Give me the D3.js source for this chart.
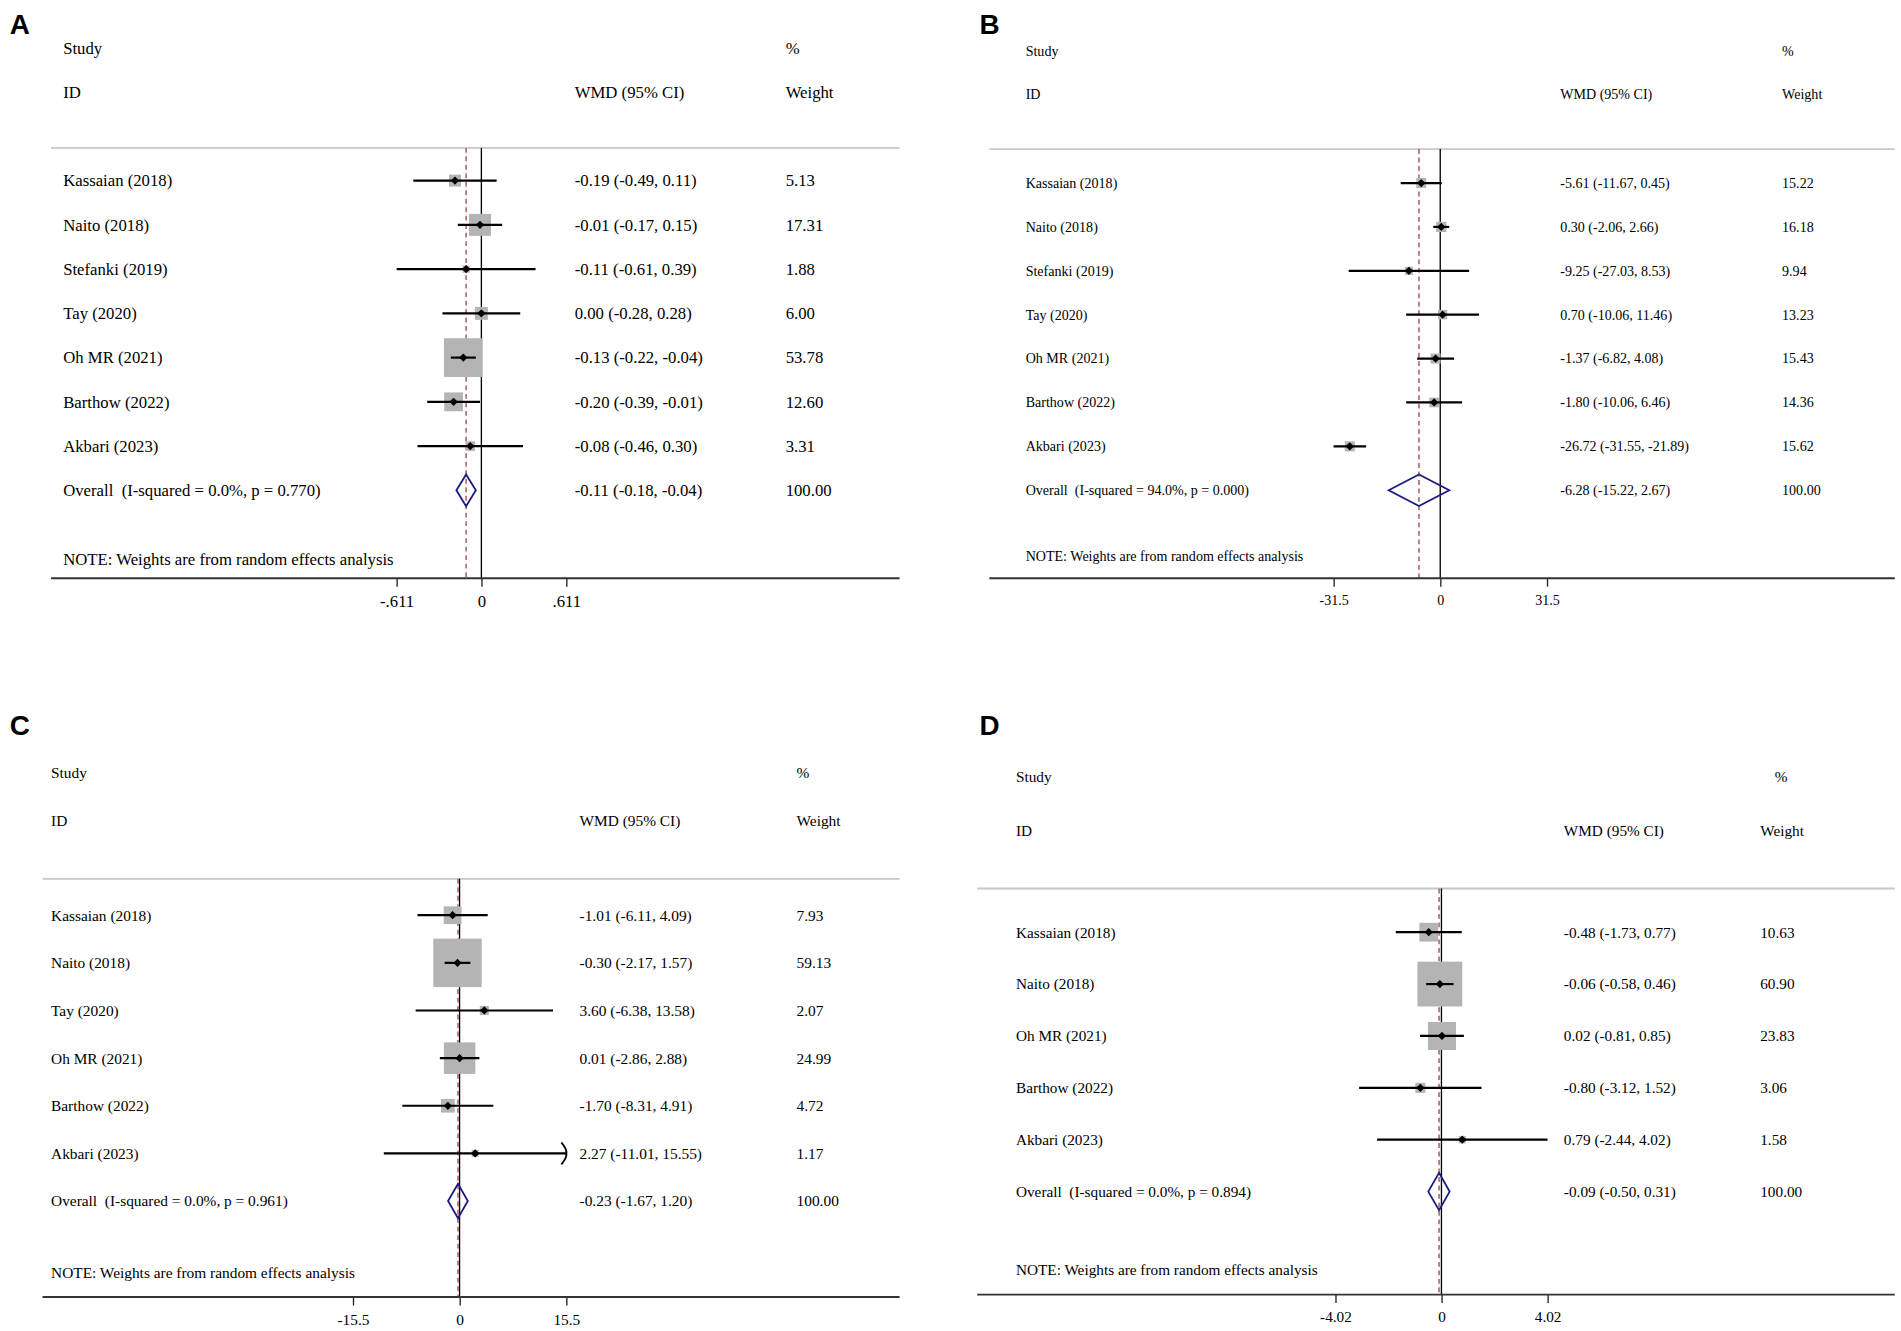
<!DOCTYPE html>
<html>
<head>
<meta charset="utf-8">
<script src="https://cdn.jsdelivr.net/npm/d3@7"></script>
<style>
  body { margin: 0; background: #fff; }
  text { font-family: "Liberation Serif", "Times New Roman", serif; fill: #000; }
  .letter { font-family: "Liberation Sans", Arial, sans-serif; font-weight: bold; }
</style>
</head>
<body>
<svg id="chart"></svg>
<script>
// Panel A - data
var studiesA = ['Kassaian (2018)', 'Naito (2018)', 'Stefanki (2019)', 'Tay (2020)', 'Oh MR (2021)', 'Barthow (2022)', 'Akbari (2023)'];
var estA = [-0.19, -0.01, -0.11, 0.00, -0.13, -0.20, -0.08];
var loA = [-0.49, -0.17, -0.61, -0.28, -0.22, -0.39, -0.46];
var hiA = [0.11, 0.15, 0.39, 0.28, -0.04, -0.01, 0.30];
var weightA = [5.13, 17.31, 1.88, 6.00, 53.78, 12.60, 3.31];
var overallA = [-0.11, -0.18, -0.04];
var hetA = 'Overall  (I-squared = 0.0%, p = 0.770)';
var ticksA = [-0.611, 0, 0.611];
var tickLabelsA = ['-.611', '0', '.611'];

// Panel B - data
var studiesB = ['Kassaian (2018)', 'Naito (2018)', 'Stefanki (2019)', 'Tay (2020)', 'Oh MR (2021)', 'Barthow (2022)', 'Akbari (2023)'];
var estB = [-5.61, 0.30, -9.25, 0.70, -1.37, -1.80, -26.72];
var loB = [-11.67, -2.06, -27.03, -10.06, -6.82, -10.06, -31.55];
var hiB = [0.45, 2.66, 8.53, 11.46, 4.08, 6.46, -21.89];
var weightB = [15.22, 16.18, 9.94, 13.23, 15.43, 14.36, 15.62];
var overallB = [-6.28, -15.22, 2.67];
var hetB = 'Overall  (I-squared = 94.0%, p = 0.000)';
var ticksB = [-31.5, 0, 31.5];
var tickLabelsB = ['-31.5', '0', '31.5'];

// Panel C - data
var studiesC = ['Kassaian (2018)', 'Naito (2018)', 'Tay (2020)', 'Oh MR (2021)', 'Barthow (2022)', 'Akbari (2023)'];
var estC = [-1.01, -0.30, 3.60, 0.01, -1.70, 2.27];
var loC = [-6.11, -2.17, -6.38, -2.86, -8.31, -11.01];
var hiC = [4.09, 1.57, 13.58, 2.88, 4.91, 15.55];
var weightC = [7.93, 59.13, 2.07, 24.99, 4.72, 1.17];
var overallC = [-0.23, -1.67, 1.20];
var hetC = 'Overall  (I-squared = 0.0%, p = 0.961)';
var ticksC = [-15.5, 0, 15.5];
var tickLabelsC = ['-15.5', '0', '15.5'];

// Panel D - data
var studiesD = ['Kassaian (2018)', 'Naito (2018)', 'Oh MR (2021)', 'Barthow (2022)', 'Akbari (2023)'];
var estD = [-0.48, -0.06, 0.02, -0.80, 0.79];
var loD = [-1.73, -0.58, -0.81, -3.12, -2.44];
var hiD = [0.77, 0.46, 0.85, 1.52, 4.02];
var weightD = [10.63, 60.90, 23.83, 3.06, 1.58];
var overallD = [-0.09, -0.50, 0.31];
var hetD = 'Overall  (I-squared = 0.0%, p = 0.894)';
var ticksD = [-4.02, 0, 4.02];
var tickLabelsD = ['-4.02', '0', '4.02'];

// Drawing space: the picture is laid out on 1568 x 1098 and scaled to the window
var svgWidth = 1901;
var svgHeight = 1331;

var svg = d3.select('#chart')
    .attr('width', svgWidth)
    .attr('height', svgHeight)
    .attr('viewBox', '0 0 1568 1098');

svg.append('rect')
    .attr('width', 1568)
    .attr('height', 1098)
    .attr('fill', '#fff');

// Layout of each panel
var panels = [
    {letter: 'A', lx: 8, ly: 28, studies: studiesA, est: estA, lo: loA, hi: hiA, weight: weightA,
     overall: overallA, het: hetA, ticks: ticksA, tickLabels: tickLabelsA,
     left: 42, right: 742, xStudy: 52, xEst: 474, xWt: 648, xPct: 648, yStudy: 40, yID: 76, yTop: 122,
     row0: 149, step: 36.5, yNote: 461, yAxis: 477, x0: 397, half: 70, fs: 13.8, boxK: 4.36},
    {letter: 'B', lx: 808, ly: 28, studies: studiesB, est: estB, lo: loB, hi: hiB, weight: weightB,
     overall: overallB, het: hetB, ticks: ticksB, tickLabels: tickLabelsB,
     left: 816, right: 1563, xStudy: 846, xEst: 1287, xWt: 1470, xPct: 1470, yStudy: 42, yID: 78, yTop: 123,
     row0: 151, step: 36.2, yNote: 459, yAxis: 477, x0: 1188, half: 88, fs: 11.6, boxK: 2.1},
    {letter: 'C', lx: 8, ly: 606, studies: studiesC, est: estC, lo: loC, hi: hiC, weight: weightC,
     overall: overallC, het: hetC, ticks: ticksC, tickLabels: tickLabelsC,
     left: 35, right: 742, xStudy: 42, xEst: 478, xWt: 657, xPct: 657, yStudy: 637, yID: 677, yTop: 725,
     row0: 755, step: 39.3, yNote: 1050, yAxis: 1070, x0: 379, half: 88, fs: 12.7, boxK: 5.2},
    {letter: 'D', lx: 808, ly: 606, studies: studiesD, est: estD, lo: loD, hi: hiD, weight: weightD,
     overall: overallD, het: hetD, ticks: ticksD, tickLabels: tickLabelsD,
     left: 806, right: 1563, xStudy: 838, xEst: 1290, xWt: 1452, xPct: 1464, yStudy: 641, yID: 685, yTop: 733,
     row0: 769, step: 42.8, yNote: 1047, yAxis: 1068, x0: 1189, half: 87.5, fs: 12.6, boxK: 4.74}
];

function drawPanel(p) {
    var g = svg.append('g');
    var n = p.studies.length;
    var lim = p.ticks[p.ticks.length - 1];

    var xScale = d3.scaleLinear()
        .domain([-lim, lim])
        .range([p.x0 - p.half, p.x0 + p.half]);

    var yScale = d3.scaleLinear()
        .domain([0, 1])
        .range([p.row0, p.row0 + p.step]);

    var rows = p.studies.map((s, i) => ({
        study: s, est: p.est[i], lo: p.lo[i], hi: p.hi[i], w: p.weight[i], i: i
    }));
    var yOverall = yScale(n);

    // Panel letter
    g.append('text')
        .attr('class', 'letter')
        .attr('x', p.lx)
        .attr('y', p.ly)
        .style('font-size', '23px')
        .text(p.letter);

    // Header texts
    var header = [
        {t: 'Study', x: p.xStudy, y: p.yStudy},
        {t: '%', x: p.xPct, y: p.yStudy},
        {t: 'ID', x: p.xStudy, y: p.yID},
        {t: 'WMD (95% CI)', x: p.xEst, y: p.yID},
        {t: 'Weight', x: p.xWt, y: p.yID}
    ];
    g.selectAll('.hdr')
        .data(header)
        .enter()
        .append('text')
        .attr('x', (d) => d.x)
        .attr('y', (d) => d.y)
        .attr('dy', '0.35em')
        .style('font-size', p.fs + 'px')
        .text((d) => d.t);

    // Top rule
    g.append('line')
        .attr('x1', p.left).attr('x2', p.right)
        .attr('y1', p.yTop).attr('y2', p.yTop)
        .attr('stroke', '#c8c8c8')
        .attr('stroke-width', 1.6);

    // Null line and overall dashed line
    g.append('line')
        .attr('x1', xScale(0)).attr('x2', xScale(0))
        .attr('y1', p.yTop).attr('y2', p.yAxis)
        .attr('stroke', '#000')
        .attr('stroke-width', 1.1);

    g.append('line')
        .attr('x1', xScale(p.overall[0])).attr('x2', xScale(p.overall[0]))
        .attr('y1', p.yTop).attr('y2', p.yAxis)
        .attr('stroke', '#a8565a')
        .attr('stroke-width', 1.2)
        .attr('stroke-dasharray', '4,3');

    // Weight boxes
    g.selectAll('.box')
        .data(rows)
        .enter()
        .append('rect')
        .attr('x', (d) => xScale(d.est) - p.boxK * Math.sqrt(d.w) / 2)
        .attr('y', (d) => yScale(d.i) - p.boxK * Math.sqrt(d.w) / 2)
        .attr('width', (d) => p.boxK * Math.sqrt(d.w))
        .attr('height', (d) => p.boxK * Math.sqrt(d.w))
        .attr('fill', '#b4b4b4');

    // Confidence intervals (clipped at the axis range)
    g.selectAll('.ci')
        .data(rows)
        .enter()
        .append('line')
        .attr('x1', (d) => xScale(Math.max(d.lo, -lim)))
        .attr('x2', (d) => xScale(Math.min(d.hi, lim)))
        .attr('y1', (d) => yScale(d.i))
        .attr('y2', (d) => yScale(d.i))
        .attr('stroke', '#000')
        .attr('stroke-width', 1.8);

    // Arrow for intervals running off the scale
    var clipped = rows.filter((d) => d.hi > lim);
    g.selectAll('.arrow')
        .data(clipped)
        .enter()
        .append('path')
        .attr('d', (d) => {
            var x = xScale(lim), y = yScale(d.i);
            return `M${x - 4},${y - 9} Q${x + 1},${y - 3} ${x},${y} Q${x + 1},${y + 3} ${x - 4},${y + 9}`;
        })
        .attr('fill', 'none')
        .attr('stroke', '#000')
        .attr('stroke-width', 1.6);

    // Point estimates
    g.selectAll('.pt')
        .data(rows)
        .enter()
        .append('path')
        .attr('d', (d) => {
            var x = xScale(d.est), y = yScale(d.i), r = 3.4;
            return `M${x},${y - r} L${x + r},${y} L${x},${y + r} L${x - r},${y} Z`;
        })
        .attr('fill', '#000');

    // Overall diamond
    var dh = p.step * 0.36;
    g.append('path')
        .attr('d', `M${xScale(p.overall[1])},${yOverall} L${xScale(p.overall[0])},${yOverall - dh} ` +
            `L${xScale(p.overall[2])},${yOverall} L${xScale(p.overall[0])},${yOverall + dh} Z`)
        .attr('fill', 'none')
        .attr('stroke', '#1c1c80')
        .attr('stroke-width', 1.5);

    // Row texts
    g.selectAll('.study')
        .data(rows)
        .enter()
        .append('text')
        .attr('x', p.xStudy)
        .attr('y', (d) => yScale(d.i))
        .attr('dy', '0.35em')
        .style('font-size', p.fs + 'px')
        .text((d) => d.study);

    g.selectAll('.estTxt')
        .data(rows)
        .enter()
        .append('text')
        .attr('x', p.xEst)
        .attr('y', (d) => yScale(d.i))
        .attr('dy', '0.35em')
        .style('font-size', p.fs + 'px')
        .text((d) => `${d.est.toFixed(2)} (${d.lo.toFixed(2)}, ${d.hi.toFixed(2)})`);

    g.selectAll('.wtTxt')
        .data(rows)
        .enter()
        .append('text')
        .attr('x', p.xWt)
        .attr('y', (d) => yScale(d.i))
        .attr('dy', '0.35em')
        .style('font-size', p.fs + 'px')
        .text((d) => d.w.toFixed(2));

    // Overall row
    var ov = p.overall;
    var overallTexts = [
        {t: p.het, x: p.xStudy},
        {t: `${ov[0].toFixed(2)} (${ov[1].toFixed(2)}, ${ov[2].toFixed(2)})`, x: p.xEst},
        {t: '100.00', x: p.xWt}
    ];
    g.selectAll('.ovTxt')
        .data(overallTexts)
        .enter()
        .append('text')
        .attr('x', (d) => d.x)
        .attr('y', yOverall)
        .attr('dy', '0.35em')
        .style('font-size', p.fs + 'px')
        .style('white-space', 'pre')
        .text((d) => d.t);

    g.append('text')
        .attr('x', p.xStudy)
        .attr('y', p.yNote)
        .attr('dy', '0.35em')
        .style('font-size', p.fs + 'px')
        .text('NOTE: Weights are from random effects analysis');

    // Bottom axis
    var axis = d3.axisBottom(xScale)
        .tickValues(p.ticks)
        .tickSize(7)
        .tickFormat((d, i) => p.tickLabels[i]);

    var ax = g.append('g')
        .attr('transform', `translate(0, ${p.yAxis})`)
        .call(axis);
    ax.select('.domain').remove();
    ax.selectAll('.tick line').attr('stroke', '#222').attr('stroke-width', 1.1);
    ax.selectAll('.tick text')
        .attr('y', 14)
        .style('font-family', '"Liberation Serif", "Times New Roman", serif')
        .style('font-size', p.fs + 'px')
        .attr('fill', '#000');

    g.append('line')
        .attr('x1', p.left).attr('x2', p.right)
        .attr('y1', p.yAxis).attr('y2', p.yAxis)
        .attr('stroke', '#333')
        .attr('stroke-width', 1.6);
}

panels.forEach(drawPanel);
</script>
</body>
</html>
